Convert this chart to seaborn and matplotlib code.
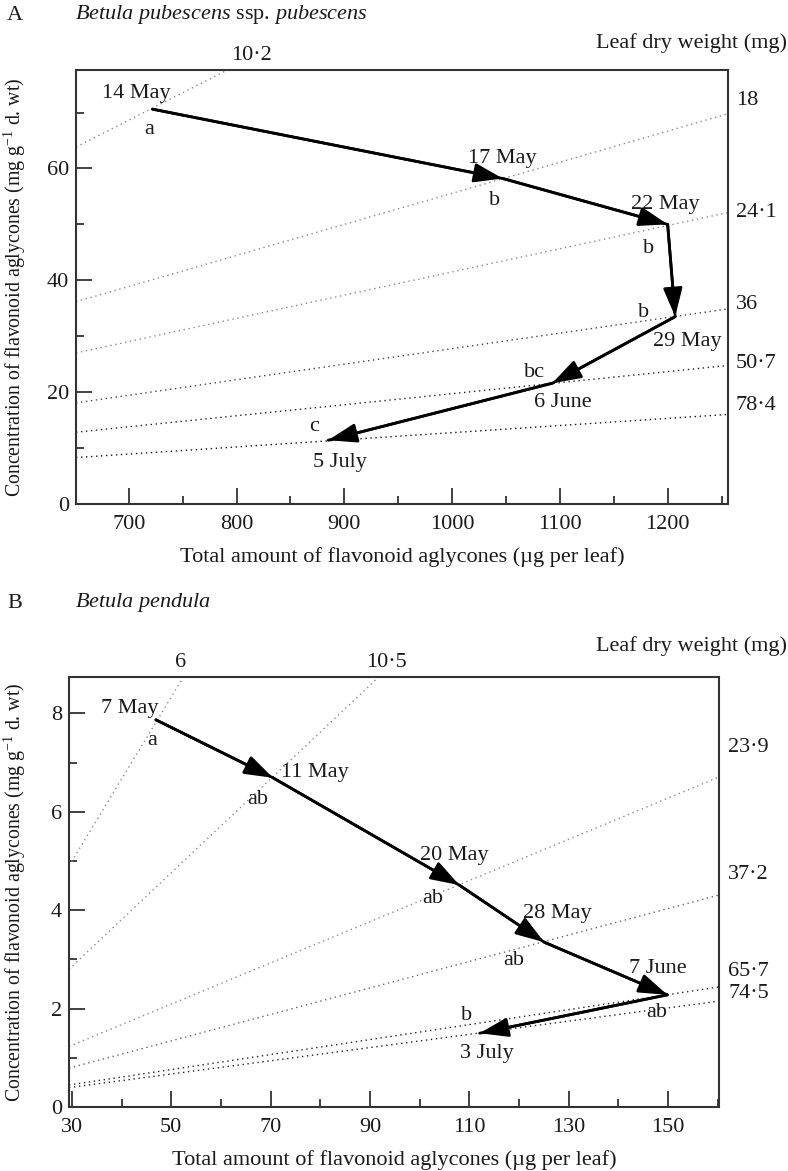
import numpy as np
import pandas as pd
import matplotlib
matplotlib.use('Agg')
import matplotlib.pyplot as plt
import seaborn as sns
from matplotlib.ticker import FixedLocator

# ---------------- Data ----------------
# Panel A: Betula pubescens ssp. pubescens
dates_a = ['14 May', '17 May', '22 May', '29 May', '6 June', '5 July']
total_a = [722, 1047, 1200, 1207, 1093, 885]          # µg per leaf
conc_a = [70.6, 58.2, 50.0, 33.5, 21.6, 11.4]         # mg g-1 d. wt
letters_a = ['a', 'b', 'b', 'b', 'bc', 'c']
dw_a = [10.2, 18, 24.1, 36, 50.7, 78.4]               # leaf dry weight (mg) isolines
dw_labels_a = ['10·2', '18', '24·1', '36', '50·7', '78·4']
xticks_a = [700, 800, 900, 1000, 1100, 1200]
xminor_a = [750, 850, 950, 1050, 1150, 1250]
yticks_a = [0, 20, 40, 60]
yminor_a = [10, 30, 50, 70]

# Panel B: Betula pendula
dates_b = ['7 May', '11 May', '20 May', '28 May', '7 June', '3 July']
total_b = [46.9, 70.5, 108.0, 125.1, 149.9, 112.1]
conc_b = [7.87, 6.69, 4.51, 3.35, 2.28, 1.50]
letters_b = ['a', 'ab', 'ab', 'ab', 'ab', 'b']
dw_b = [6, 10.5, 23.9, 37.2, 65.7, 74.5]
dw_labels_b = ['6', '10·5', '23·9', '37·2', '65·7', '74·5']
xticks_b = [30, 50, 70, 90, 110, 130, 150]
xminor_b = [40, 60, 80, 100, 120, 140, 160]
yticks_b = [0, 2, 4, 6, 8]
yminor_b = [1, 3, 5, 7]

# ---------------- Style ----------------
sns.set_theme(style='white')
plt.rcParams['font.family'] = ['Liberation Serif', 'DejaVu Serif']
plt.rcParams['mathtext.fontset'] = 'custom'
plt.rcParams['mathtext.rm'] = 'Liberation Serif'
plt.rcParams['mathtext.it'] = 'Liberation Serif:italic'
plt.rcParams['axes.unicode_minus'] = True

W, H = 788, 1171
fig = plt.figure(figsize=(W / 100, H / 100), dpi=100)

def px_axes(l, t, r, b):
    return fig.add_axes([l / W, 1 - b / H, (r - l) / W, (b - t) / H])

ax_a = px_axes(76, 70, 728, 504)
ax_b = px_axes(69, 677, 719, 1107)

FS = 16
YFS = 14.3
INK = '#1a1a1a'

def draw_panel(ax, total, conc, dates, letters, dw, dw_labels, xlim, ylim,
               xt, xm, yt, ym, iso_colors, date_off, let_off, dwlab_off,
               ylab_x, xlab_y, lbl_pad):
    # isolines of constant leaf dry weight
    xs = np.array(xlim, dtype=float)
    for w, c in zip(dw, iso_colors):
        sns.lineplot(x=xs, y=xs / w, ax=ax, color=c, lw=1.0,
                     linestyle=(0, (1, 2.6)), zorder=1)
    # trajectory
    sns.lineplot(x=total, y=conc, sort=False, ax=ax, color='black', lw=2,
                 zorder=3)
    for i in range(1, len(total)):
        ax.annotate('', xy=(total[i], conc[i]), xytext=(total[i - 1], conc[i - 1]),
                    arrowprops=dict(arrowstyle='-|>,head_length=1.25,head_width=0.42',
                                    color='black', lw=2, shrinkA=0, shrinkB=0,
                                    mutation_scale=14),
                    zorder=4)
    # date labels and letters
    for x, y, d, l, (ddx, ddy), (ldx, ldy) in zip(total, conc, dates, letters,
                                                    date_off, let_off):
        ax.annotate(d, (x, y), xytext=(ddx, ddy), textcoords='offset pixels',
                    ha='center', va='center', fontsize=FS, color=INK, zorder=5)
        ax.annotate(l, (x, y), xytext=(ldx, ldy), textcoords='offset pixels',
                    ha='center', va='center', fontsize=FS, color=INK, zorder=5)
    ax.set_xlim(*xlim)
    ax.set_ylim(*ylim)
    # dry weight labels
    for w, lab, (ox, oy) in zip(dw, dw_labels, dwlab_off):
        if xlim[1] / w > ylim[1]:
            ax.annotate(lab, (ylim[1] * w, ylim[1]), xytext=(ox, oy),
                        textcoords='offset pixels', ha='center', va='center',
                        fontsize=FS, color=INK, annotation_clip=False)
        else:
            ax.annotate(lab, (xlim[1], xlim[1] / w), xytext=(ox, oy),
                        textcoords='offset pixels', ha='left', va='center',
                        fontsize=FS, color=INK, annotation_clip=False)
    # ticks
    ax.xaxis.set_major_locator(FixedLocator(xt))
    ax.xaxis.set_minor_locator(FixedLocator(xm))
    ax.yaxis.set_major_locator(FixedLocator(yt))
    ax.yaxis.set_minor_locator(FixedLocator(ym))
    ax.tick_params(which='major', direction='in', length=11.5, width=1.3,
                   colors='#333333', labelcolor=INK, labelsize=FS,
                   bottom=True, left=True, top=False, right=False)
    ax.tick_params(which='minor', direction='in', length=5.5, width=1.3,
                   colors='#333333', bottom=True, left=True, top=False, right=False)
    ax.tick_params(axis='x', which='major', pad=lbl_pad)
    ax.tick_params(axis='y', which='major', pad=5)
    for s in ax.spines.values():
        s.set_color('#333333')
        s.set_linewidth(1.5)
    ax.set_xlabel('Total amount of flavonoid aglycones (µg per leaf)',
                  fontsize=FS, color=INK)
    ax.set_ylabel('Concentration of flavonoid aglycones (mg g$^{-1}$ d. wt)',
                  fontsize=YFS, color=INK)
    ax.yaxis.set_label_coords(ylab_x, 0.5)
    ax.xaxis.set_label_coords(0.5, xlab_y)
    ax.grid(False)

iso_a = ['#8a8a8a', '#8a8a8a', '#8a8a8a', '#444444', '#222222', '#111111']
iso_b = ['#8a8a8a', '#8a8a8a', '#8a8a8a', '#666666', '#222222', '#222222']

draw_panel(ax_a, total_a, conc_a, dates_a, letters_a, dw_a, dw_labels_a,
           (651, 1256), (0, 77.6), xticks_a, xminor_a, yticks_a, yminor_a, iso_a,
           date_off=[(-16, 16), (0, 20), (-2, 20), (12, -25), (10, -19), (12, -22)],
           let_off=[(-3, -20), (-8, -22), (-19, -24), (-32, 4), (-18, 11), (-14, 14)],
           dwlab_off=[(24, 15), (8, 13), (8, 0), (8, 4), (8, 2), (8, 9)],
           ylab_x=-0.074, xlab_y=-0.1, lbl_pad=8)

draw_panel(ax_b, total_b, conc_b, dates_b, letters_b, dw_b, dw_labels_b,
           (29.4, 160.3), (0, 8.74), xticks_b, xminor_b, yticks_b, yminor_b, iso_b,
           date_off=[(-26, 11), (42, 5), (-5, 30), (13, 29), (-10, 26), (7, -20)],
           let_off=[(-4, -21), (-15, -22), (-27, -13), (-30, -18), (-11, -18), (-13, 18)],
           dwlab_off=[(-3, 15), (8, 15), (9, 30), (9, 20), (9, 15), (9, 8)],
           ylab_x=-0.063, xlab_y=-0.1, lbl_pad=8)

# headers
fig.text(15 / W, 1 - 15 / H, 'A', fontsize=FS, color=INK, ha='center', va='center')
fig.text(75 / W, 1 - 15 / H, r'$\it{Betula\ pubescens}$ ssp. $\it{pubescens}$',
         fontsize=FS, color=INK, ha='left', va='center')
fig.text(15 / W, 1 - 603 / H, 'B', fontsize=FS, color=INK, ha='center', va='center')
fig.text(75 / W, 1 - 603 / H, r'$\it{Betula\ pendula}$',
         fontsize=FS, color=INK, ha='left', va='center')
fig.text(787 / W, 1 - 43 / H, 'Leaf dry weight (mg)', fontsize=FS, color=INK,
         ha='right', va='center')
fig.text(787 / W, 1 - 646 / H, 'Leaf dry weight (mg)', fontsize=FS, color=INK,
         ha='right', va='center')

fig.savefig('out.png', dpi=100)
